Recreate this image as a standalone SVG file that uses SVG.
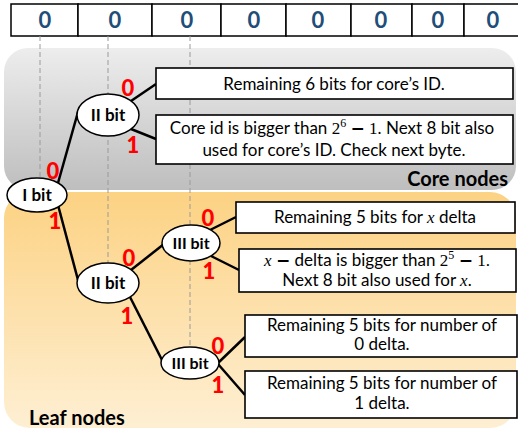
<svg xmlns="http://www.w3.org/2000/svg" width="518" height="430" viewBox="0 0 518 430">
  <defs>
    <linearGradient id="coreFill" x1="0" y1="0" x2="0" y2="1">
      <stop offset="0" stop-color="#ededed"/>
      <stop offset="1" stop-color="#bebebe"/>
    </linearGradient>
    <linearGradient id="leafFill" x1="0" y1="0" x2="0" y2="1">
      <stop offset="0" stop-color="#fcd283"/>
      <stop offset="1" stop-color="#feefd3"/>
    </linearGradient>
    <style>
      .cell { fill: #ffffff; stroke: #000000; stroke-width: 1.5; }
      .digit { font-family: Lato, "Liberation Sans", sans-serif; font-weight: bold; font-size: 22px; fill: #1f4e79; text-anchor: middle; }
      .guide { stroke: #9a9a9a; stroke-width: 1; stroke-dasharray: 5 3; fill: none; }
      .edge { stroke: #000000; stroke-width: 2.5; fill: none; }
      .bit { fill: #ffffff; stroke: #000000; stroke-width: 1.5; }
      .bitlabel { font-family: Lato, "Liberation Sans", sans-serif; font-weight: bold; font-size: 17px; fill: #000000; text-anchor: middle; }
      .branch { font-family: Lato, "Liberation Sans", sans-serif; font-weight: 900; font-size: 22px; fill: #ff0000; text-anchor: middle; }
      .box { fill: #ffffff; stroke: #000000; stroke-width: 1.6; }
      .desc { font-family: Lato, "Liberation Sans", sans-serif; font-size: 17px; fill: #000000; text-anchor: middle; }
      .math { font-family: "Liberation Serif", "DejaVu Serif", serif; }
      .minus { font-family: "DejaVu Sans", sans-serif; font-weight: bold; }
      .var { font-family: "Liberation Serif", "DejaVu Serif", serif; font-style: italic; }
      .region { font-family: Lato, "Liberation Sans", sans-serif; font-weight: bold; font-size: 20px; fill: #000000; }
    </style>
  </defs>

  <!-- background regions -->
  <rect x="4" y="48" width="512" height="142" rx="24" fill="url(#coreFill)"/>
  <rect x="4" y="192" width="512" height="236" rx="26" fill="url(#leafFill)"/>
  <text class="region" x="508" y="186" text-anchor="end">Core nodes</text>
  <text class="region" x="29" y="425">Leaf nodes</text>

  <!-- byte cells -->
  <g id="byte">
    <rect class="cell" x="11" y="4" width="67" height="32"/>
    <rect class="cell" x="78" y="4" width="74" height="32"/>
    <rect class="cell" x="152" y="4" width="69" height="32"/>
    <rect class="cell" x="221" y="4" width="65" height="32"/>
    <rect class="cell" x="286" y="4" width="65" height="32"/>
    <rect class="cell" x="351" y="4" width="61" height="32"/>
    <rect class="cell" x="412" y="4" width="52" height="32"/>
    <rect class="cell" x="464" y="4" width="60" height="32"/>
    <text class="digit" x="45" y="28">0</text>
    <text class="digit" x="115" y="28">0</text>
    <text class="digit" x="187" y="28">0</text>
    <text class="digit" x="254" y="28">0</text>
    <text class="digit" x="318" y="28">0</text>
    <text class="digit" x="381" y="28">0</text>
    <text class="digit" x="438" y="28">0</text>
    <text class="digit" x="493" y="28">0</text>
  </g>

  <!-- bit position guides -->
  <g id="guides">
    <line class="guide" x1="40" y1="36" x2="40" y2="190"/>
    <line class="guide" x1="108" y1="36" x2="108" y2="265"/>
    <line class="guide" x1="190" y1="36" x2="190" y2="348"/>
  </g>

  <!-- connectors -->
  <g id="connectors">
    <line class="edge" x1="58" y1="183" x2="78" y2="112"/>
    <line class="edge" x1="58" y1="205" x2="78" y2="280"/>
    <line class="edge" x1="131" y1="101" x2="156" y2="84"/>
    <line class="edge" x1="131" y1="129" x2="156" y2="139"/>
    <line class="edge" x1="131" y1="270" x2="164" y2="244"/>
    <line class="edge" x1="130" y1="297" x2="162" y2="360"/>
    <line class="edge" x1="210" y1="230" x2="236" y2="217"/>
    <line class="edge" x1="211" y1="256" x2="239" y2="270"/>
    <line class="edge" x1="218" y1="363" x2="245" y2="337"/>
    <line class="edge" x1="218" y1="364" x2="245" y2="395"/>
    <text class="branch" x="53" y="179">0</text>
    <text class="branch" x="55" y="229">1</text>
    <text class="branch" x="128" y="96">0</text>
    <text class="branch" x="133" y="153">1</text>
    <text class="branch" x="129" y="266">0</text>
    <text class="branch" x="127" y="324">1</text>
    <text class="branch" x="208" y="226">0</text>
    <text class="branch" x="209" y="279">1</text>
    <text class="branch" x="218" y="354">0</text>
    <text class="branch" x="218" y="393">1</text>
  </g>

  <!-- decision nodes -->
  <g id="bit1">
    <ellipse class="bit" cx="37" cy="195" rx="30" ry="17"/>
    <text class="bitlabel" x="37" y="201">I bit</text>
  </g>
  <g id="bit2-core">
    <ellipse class="bit" cx="108" cy="115" rx="31" ry="21"/>
    <text class="bitlabel" x="108" y="121">II bit</text>
  </g>
  <g id="bit2-leaf">
    <ellipse class="bit" cx="108" cy="283" rx="31" ry="20"/>
    <text class="bitlabel" x="108" y="289">II bit</text>
  </g>
  <g id="bit3-upper">
    <ellipse class="bit" cx="191" cy="243" rx="29" ry="18"/>
    <text class="bitlabel" x="191" y="249" style="font-size:16px">III bit</text>
  </g>
  <g id="bit3-lower">
    <ellipse class="bit" cx="190" cy="363" rx="29" ry="16"/>
    <text class="bitlabel" x="190" y="369" style="font-size:16px">III bit</text>
  </g>

  <!-- outcome boxes -->
  <g id="core-id">
    <rect class="box" x="156" y="68" width="357" height="31"/>
    <text class="desc" x="334" y="90">Remaining 6 bits for core’s ID.</text>
  </g>
  <g id="core-id-ext">
    <rect class="box" x="156" y="115" width="357" height="49"/>
    <text class="desc" x="332" y="134">Core id is bigger than <tspan class="math">2</tspan><tspan class="math" dy="-7" font-size="12">6</tspan><tspan dy="7"> </tspan><tspan class="minus">−</tspan><tspan class="math"> 1</tspan>. Next 8 bit also</text>
    <text class="desc" x="334" y="156">used for core’s ID. Check next byte.</text>
  </g>
  <g id="x-delta">
    <rect class="box" x="236" y="202" width="279" height="31"/>
    <text class="desc" x="375" y="223">Remaining 5 bits for <tspan class="var">x</tspan> delta</text>
  </g>
  <g id="x-delta-ext">
    <rect class="box" x="239" y="249" width="277" height="43"/>
    <text class="desc" x="377" y="266"><tspan class="var">x</tspan> <tspan class="minus">−</tspan> delta is bigger than <tspan class="math">2</tspan><tspan class="math" dy="-7" font-size="12">5</tspan><tspan dy="7"> </tspan><tspan class="minus">−</tspan><tspan class="math"> 1.</tspan></text>
    <text class="desc" x="377" y="286">Next 8 bit also used for <tspan class="var">x</tspan>.</text>
  </g>
  <g id="zero-delta">
    <rect class="box" x="245" y="315" width="272" height="42"/>
    <text class="desc" x="382" y="331">Remaining 5 bits for number of</text>
    <text class="desc" x="382" y="350">0 delta.</text>
  </g>
  <g id="one-delta">
    <rect class="box" x="245" y="371" width="272" height="47"/>
    <text class="desc" x="382" y="389">Remaining 5 bits for number of</text>
    <text class="desc" x="382" y="409">1 delta.</text>
  </g>
</svg>
